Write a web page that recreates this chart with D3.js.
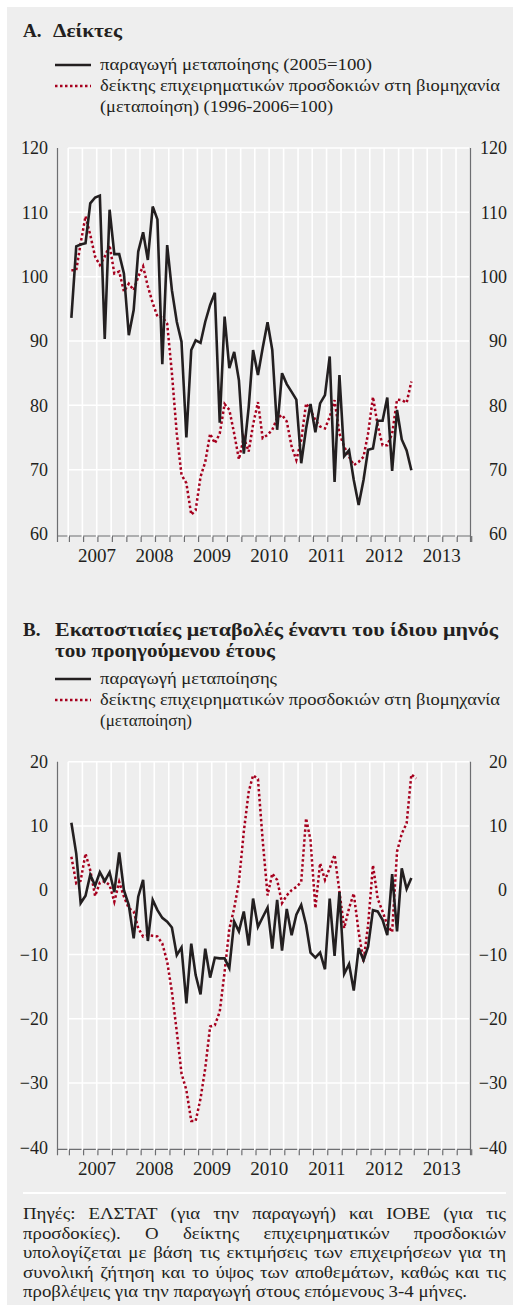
<!DOCTYPE html>
<html>
<head>
<meta charset="utf-8">
<script src="https://cdn.jsdelivr.net/npm/d3@7"></script>
<style>
  body { margin: 0; background: #fff; }
</style>
</head>
<body>
<svg id="chart" width="513" height="1305"></svg>
<script>
// Monthly data, Jan 2007 onwards
const prodIndex = [
  93.6, 104.7, 105.0, 105.2, 111.4, 112.3, 112.6, 90.3, 110.4, 103.5, 103.5, 100.5,
  90.9, 94.8, 103.9, 106.9, 102.6, 110.9, 108.9, 86.4, 104.9, 97.9, 93.0, 89.9,
  75.0, 88.6, 90.1, 89.7, 93.0, 95.6, 97.5, 77.3, 93.8, 85.8, 88.3, 83.9,
  72.5, 79.7, 88.6, 84.7, 88.9, 92.9, 88.6, 76.2, 85.0, 83.3, 82.1, 80.9,
  71.0, 76.4, 80.2, 75.8, 80.3, 81.6, 87.6, 68.1, 84.7, 72.1, 73.0, 68.4,
  64.5, 68.4, 73.1, 73.3, 77.6, 77.6, 81.2, 69.8, 79.3, 74.7, 73.0, 69.9
];
const confIndex = [
  101.0, 101.0, 105.2, 109.4, 106.5, 103.1, 101.8, 103.1, 104.9, 100.5, 100.8, 97.7,
  98.9, 97.9, 100.0, 101.6, 98.5, 95.9, 93.8, 93.7, 92.7, 85.0, 75.6, 69.2,
  67.9, 63.0, 63.7, 68.9, 71.2, 75.6, 74.1, 75.6, 80.2, 79.3, 75.6, 71.6,
  75.0, 72.8, 77.0, 80.5, 74.9, 75.4, 76.2, 78.0, 78.5, 77.5, 73.6, 71.5,
  74.6, 80.3, 79.3, 77.7, 76.7, 76.4, 78.2, 80.8, 75.6, 73.6, 72.0, 70.7,
  71.2, 72.0, 75.6, 81.3, 76.9, 73.8, 73.8, 75.6, 80.9, 80.8, 80.4, 83.7
];
const prodYoY = [
  10.5, 5.7, -2.0, -0.85, 2.4, 0.7, 2.8, 1.4, 2.8, -0.3, 5.9, 0.0,
  -2.3, -7.5, -1.0, 1.6, -7.9, -1.5, -3.1, -4.3, -4.9, -5.8, -10.1, -8.9,
  -17.6, -8.3, -13.2, -16.2, -9.1, -13.6, -10.5, -10.6, -10.6, -12.1, -4.9, -6.4,
  -3.3, -8.6, -1.3, -5.7, -4.2, -2.7, -9.1, -1.5, -9.4, -2.9, -7.0, -3.8,
  -2.3, -5.4, -9.7, -10.5, -9.7, -12.3, -1.3, -10.2, -0.3, -13.0, -11.5, -15.6,
  -9.0, -10.9, -8.8, -3.1, -3.3, -4.6, -7.0, 2.5, -6.4, 3.4, 0.2, 1.9
];
const confYoY = [
  5.2, 1.1, 1.5, 5.7, 3.1, -0.9, 1.2, 1.4, 0.8, -1.8, 1.3, -1.0,
  -2.8, -3.3, -5.9, -7.2, -7.0, -7.1, -7.2, -8.3, -11.1, -15.8, -22.0, -28.5,
  -31.1, -35.9, -35.9, -32.4, -27.7, -21.2, -21.0, -18.9, -12.7, -6.0, -2.8, 1.3,
  9.1, 15.3, 17.9, 17.3, 7.8, -0.8, 2.6, 1.6, -2.0, -0.8, 0.0, 0.5,
  1.3, 11.2, 7.8, -2.8, 4.2, 1.6, 3.4, 5.5, -0.2, -5.9, -2.8, -0.5,
  -6.5, -11.1, -5.4, 3.9, -1.3, -3.3, -5.4, -6.5, 6.0, 8.8, 10.4, 18.0, 17.4
];
const years = [2007, 2008, 2009, 2010, 2011, 2012, 2013];
const ticksA = [60, 70, 80, 90, 100, 110, 120];
const ticksB = [-40, -30, -20, -10, 0, 10, 20];

const titleA = "Δείκτες";
const titleB = ["Εκατοστιαίες μεταβολές έναντι του ίδιου μηνός", "του προηγούμενου έτους"];
const legendA = ["παραγωγή μεταποίησης (2005=100)",
  "δείκτης επιχειρηματικών προσδοκιών στη βιομηχανία",
  "(μεταποίηση) (1996-2006=100)"];
const legendB = ["παραγωγή μεταποίησης",
  "δείκτης επιχειρηματικών προσδοκιών στη βιομηχανία",
  "(μεταποίηση)"];
const footnote = [
  "Πηγές: ΕΛΣΤΑΤ (για την παραγωγή) και ΙΟΒΕ (για τις",
  "προσδοκίες). Ο δείκτης επιχειρηματικών προσδοκιών",
  "υπολογίζεται με βάση τις εκτιμήσεις των επιχειρήσεων για τη",
  "συνολική ζήτηση και το ύψος των αποθεμάτων, καθώς και τις",
  "προβλέψεις για την παραγωγή στους επόμενους 3-4 μήνες."
];

const FONT = "'Liberation Serif', 'DejaVu Serif', serif";
const TEXT = "#231f20";
const AXIS = "#6d6e71";
const BLACK = "#231f20";
const RED = "#a6001e";

const svg = d3.select("#chart").attr("font-family", FONT);
svg.append("rect")
  .attr("x", 7).attr("y", 7).attr("width", 506).attr("height", 1298)
  .attr("fill", "#eeeeee");

// text squeezed/stretched to the width it has in the original
function fitText(parent, str, xPos, yPos, size, width, bold) {
  const t = parent.append("text")
    .attr("x", xPos).attr("y", yPos)
    .attr("font-family", FONT)
    .attr("font-size", size)
    .attr("font-weight", bold ? "bold" : "normal")
    .attr("fill", TEXT)
    .text(str);
  if (width) t.attr("textLength", width).attr("lengthAdjust", "spacingAndGlyphs");
  return t;
}

const toPoints = arr => arr.map((v, i) => ({ date: new Date(2007, i, 21), value: v }));

const x = d3.scaleTime()
  .domain([new Date(2006, 9, 28), new Date(2014, 0, 1)])
  .range([58, 470.5]);

function drawLegend(lines, widths, top, step) {
  const g = svg.append("g");
  g.append("line").attr("x1", 55).attr("x2", 91).attr("y1", top - 5).attr("y2", top - 5)
    .attr("stroke", BLACK).attr("stroke-width", 2.5);
  g.append("line").attr("x1", 55).attr("x2", 91).attr("y1", top + step - 5).attr("y2", top + step - 5)
    .attr("stroke", RED).attr("stroke-width", 2.5).attr("stroke-dasharray", "2.5,2.5");
  lines.forEach((t, i) => fitText(g, t, 100, top + i * step, 16.5, widths[i], false));
}

function drawPanel(top, bottom, domain, ticks, lineData, dotData) {
  const y = d3.scaleLinear().domain(domain).range([bottom, top]);
  const g = svg.append("g");

  // horizontal grid
  g.append("g").selectAll("line")
    .data(ticks.slice(1))
    .join("line")
    .attr("x1", x(new Date(2007, 0, 1))).attr("x2", 469)
    .attr("y1", d => y(d)).attr("y2", d => y(d))
    .attr("stroke", "#fff").attr("stroke-width", 1.5);

  // bottom axis with quarter ticks
  const quarters = d3.timeMonth.every(3).range(new Date(2007, 0, 1), new Date(2014, 0, 2));
  g.append("line").attr("x1", 57.5).attr("x2", 471).attr("y1", bottom + 2).attr("y2", bottom + 2)
    .attr("stroke", AXIS).attr("stroke-width", 1.2);
  g.append("g").selectAll("line")
    .data(quarters)
    .join("line")
    .attr("x1", d => x(d) + 1.2).attr("x2", d => x(d) + 1.2)
    .attr("y1", bottom + 2).attr("y2", bottom + 8)
    .attr("stroke", AXIS).attr("stroke-width", 1.2);

  // vertical grid
  g.append("g").selectAll("line")
    .data(quarters.slice(0, -1))
    .join("line")
    .attr("x1", d => x(d)).attr("x2", d => x(d))
    .attr("y1", top).attr("y2", bottom + 3)
    .attr("stroke", "#fff").attr("stroke-width", 1.6);

  // side axes
  [57.5, 470.5].forEach(px => {
    g.append("line").attr("x1", px).attr("x2", px).attr("y1", top).attr("y2", bottom + 8)
      .attr("stroke", AXIS).attr("stroke-width", 1.2);
  });

  const yl = d3.axisLeft(y).tickValues(ticks).tickSize(0).tickPadding(0);
  const yr = d3.axisRight(y).tickValues(ticks).tickSize(0).tickPadding(0);
  const styleAxis = sel => {
    sel.attr("font-family", FONT).attr("font-size", 18);
    sel.select(".domain").remove();
    sel.selectAll("text").attr("fill", TEXT);
  };
  g.append("g").attr("transform", "translate(48,0)").call(yl).call(styleAxis);
  g.append("g").attr("transform", "translate(507,0)").call(yr).call(styleAxis)
    .selectAll("text").attr("text-anchor", "end");

  // year labels
  g.append("g").selectAll("text")
    .data(years)
    .join("text")
    .attr("x", d => (x(new Date(d, 0, 1)) + x(new Date(d + 1, 0, 1))) / 2)
    .attr("y", bottom + 28)
    .attr("text-anchor", "middle")
    .attr("font-family", FONT)
    .attr("font-size", 19)
    .attr("fill", TEXT)
    .text(d => d);

  const line = d3.line().x(d => x(d.date)).y(d => y(d.value));

  g.append("path").datum(toPoints(dotData))
    .attr("d", line).attr("fill", "none")
    .attr("stroke", RED).attr("stroke-width", 2.5)
    .attr("stroke-dasharray", "2.5,2.5");

  g.append("path").datum(toPoints(lineData))
    .attr("d", line).attr("fill", "none")
    .attr("stroke", BLACK).attr("stroke-width", 2.6);
}

// Panel A
fitText(svg, "A.", 23, 37, 19, null, true);
fitText(svg, titleA, 53, 37, 19, 69, true);
drawLegend(legendA, [272, 400, 233], 70, 21);
drawPanel(148, 534, [60, 120], ticksA, prodIndex, confIndex);

// Panel B
fitText(svg, "B.", 23, 636, 19, null, true);
fitText(svg, titleB[0], 55, 636, 19, 443, true);
fitText(svg, titleB[1], 55, 657, 19, 220, true);
drawLegend(legendB, [177, 400, 92], 684, 21);
drawPanel(761.7, 1147.3, [-40, 20], ticksB, prodYoY, confYoY);

// separator and justified footnote
svg.append("line").attr("x1", 23).attr("x2", 506).attr("y1", 1193).attr("y2", 1193)
  .attr("stroke", "#fff").attr("stroke-width", 2);

const note = svg.append("g");
const probe = fitText(note, footnote[footnote.length - 1], 0, -50, 16.5, null, false);
const squeeze = 444 / probe.node().getComputedTextLength();
probe.remove();

footnote.forEach((lineText, i) => {
  const yPos = 1219 + i * 19.6;
  const words = lineText.split(" ");
  const widths = words.map(w => {
    const t = fitText(note, w, 0, -50, 16.5, null, false);
    const wd = t.node().getComputedTextLength() * squeeze;
    t.remove();
    return wd;
  });
  const last = i === footnote.length - 1;
  const gap = last ? (444 - d3.sum(widths)) / (words.length - 1)
                   : (506 - 23 - d3.sum(widths)) / (words.length - 1);
  let cx = 23;
  words.forEach((w, k) => {
    fitText(note, w, cx, yPos, 16.5, widths[k], false);
    cx += widths[k] + gap;
  });
});
</script>
</body>
</html>
